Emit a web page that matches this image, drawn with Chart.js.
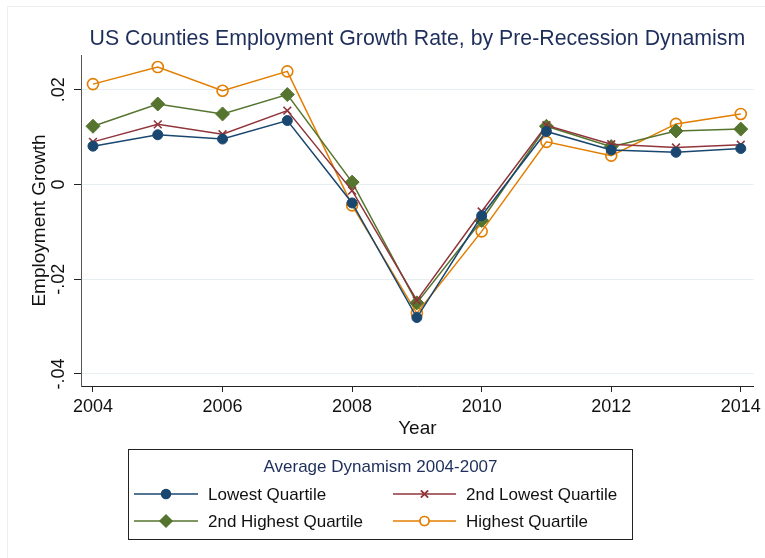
<!DOCTYPE html>
<html>
<head>
<meta charset="utf-8">
<script src="https://cdn.jsdelivr.net/npm/chart.js@4.4.1/dist/chart.umd.min.js"></script>
<style>
  html, body { margin: 0; padding: 0; background: #ffffff; }
  #wrap { width: 765px; height: 558px; position: relative; }
</style>
</head>
<body>
<div id="wrap"><canvas id="c" width="765" height="558"></canvas></div>
<script>
// Employment growth by pre-recession dynamism quartile, 2004-2014
const years = [2004, 2005, 2006, 2007, 2008, 2009, 2010, 2011, 2012, 2013, 2014];
const lowestQuartile        = [0.0081, 0.0105, 0.0096, 0.0135, -0.0039, -0.0281, -0.0066, 0.0112, 0.0073, 0.0068, 0.0076];
const secondLowestQuartile  = [0.0090, 0.0127, 0.0106, 0.0156, -0.0013, -0.0245, -0.0057, 0.0125, 0.0085, 0.0078, 0.0084];
const secondHighestQuartile = [0.0123, 0.0170, 0.0149, 0.0190, 0.0005, -0.0250, -0.0076, 0.0123, 0.0080, 0.0113, 0.0117];
const highestQuartile       = [0.0212, 0.0248, 0.0198, 0.0239, -0.0044, -0.0272, -0.0099, 0.0090, 0.0061, 0.0128, 0.0149];

const xTicks = [2004, 2006, 2008, 2010, 2012, 2014];
const yTicks = [-0.04, -0.02, 0, 0.02];
const yTickLabels = ['-.04', '-.02', '0', '.02'];

const seriesNames = ['Lowest Quartile', '2nd Lowest Quartile', '2nd Highest Quartile', 'Highest Quartile'];
const titleText = 'US Counties Employment Growth Rate, by Pre-Recession Dynamism';
const legendTitle = 'Average Dynamism 2004-2007';

const FONT = '"Liberation Sans", Arial, Helvetica, sans-serif';
const NAVY_TEXT = '#1f2f5b';

function pts(arr) { return years.map((y, i) => ({ x: y, y: arr[i] })); }

const styles = [
  { color: '#1a476f', pointStyle: 'circle',   radius: 5,   fill: true,  legendRadius: 4.5 },
  { color: '#90353b', pointStyle: 'crossRot', radius: 5.5, fill: false, legendRadius: 5 },
  { color: '#55752f', pointStyle: 'rectRot',  radius: 7,   fill: true,  legendRadius: 6 },
  { color: '#e37e00', pointStyle: 'circle',   radius: 5.5, fill: false, legendRadius: 4.5 }
];
const seriesData = [lowestQuartile, secondLowestQuartile, secondHighestQuartile, highestQuartile];

const datasets = seriesData.map((arr, i) => ({
  label: seriesNames[i],
  data: pts(arr),
  borderColor: styles[i].color,
  backgroundColor: styles[i].fill ? styles[i].color : 'rgba(0,0,0,0)',
  pointBorderColor: styles[i].color,
  pointBackgroundColor: styles[i].fill ? styles[i].color : 'rgba(0,0,0,0)',
  pointStyle: styles[i].pointStyle,
  pointRadius: styles[i].radius,
  pointBorderWidth: styles[i].fill ? 1 : 1.6,
  borderWidth: 1.5,
  tension: 0,
  fill: false
}));

// Title, frame, and boxed legend drawn on the canvas
const decorations = {
  id: 'decorations',
  beforeDraw(chart) {
    const ctx = chart.ctx;
    ctx.save();
    ctx.strokeStyle = '#eceff1';
    ctx.lineWidth = 1;
    ctx.beginPath();
    ctx.moveTo(7.5, 558); ctx.lineTo(7.5, 6.5); ctx.lineTo(765, 6.5);
    ctx.stroke();
    ctx.restore();
  },
  afterDraw(chart) {
    const ctx = chart.ctx;
    const area = chart.chartArea;
    ctx.save();
    // title
    ctx.fillStyle = NAVY_TEXT;
    ctx.font = '21.3px ' + FONT;
    ctx.textAlign = 'center';
    ctx.textBaseline = 'middle';
    ctx.fillText(titleText, (area.left + area.right) / 2, 39);

    // legend box
    const bx = 128.5, by = 449.5, bw = 504, bh = 90;
    ctx.strokeStyle = '#222';
    ctx.lineWidth = 1;
    ctx.strokeRect(bx, by, bw, bh);
    ctx.fillStyle = NAVY_TEXT;
    ctx.font = '17px ' + FONT;
    ctx.fillText(legendTitle, bx + bw / 2, 467);

    const cols = [{ x0: 134, x1: 198, tx: 208 }, { x0: 393, x1: 456, tx: 466 }];
    const rows = [494, 521];
    for (let i = 0; i < 4; i++) {
      const c = cols[i % 2], y = rows[Math.floor(i / 2)];
      const s = styles[i];
      ctx.strokeStyle = s.color;
      ctx.lineWidth = 1.5;
      ctx.beginPath(); ctx.moveTo(c.x0, y); ctx.lineTo(c.x1, y); ctx.stroke();
      // marker
      const cx = (c.x0 + c.x1) / 2;
      if (s.fill) {
        ctx.fillStyle = s.color;
        Chart.helpers.drawPoint(ctx, { pointStyle: s.pointStyle, radius: s.legendRadius, borderWidth: 1 }, cx, y);
        ctx.fill();
      } else {
        ctx.fillStyle = '#ffffff';
        ctx.lineWidth = 1.6;
        Chart.helpers.drawPoint(ctx, { pointStyle: s.pointStyle, radius: s.legendRadius, borderWidth: 1.6 }, cx, y);
        if (s.pointStyle === 'circle') ctx.fill();
        ctx.stroke();
      }
      ctx.fillStyle = '#111';
      ctx.font = '17px ' + FONT;
      ctx.textAlign = 'left';
      ctx.fillText(seriesNames[i], c.tx, y + 1);
    }
    ctx.restore();
  }
};

new Chart(document.getElementById('c'), {
  type: 'line',
  data: { datasets },
  plugins: [decorations],
  options: {
    responsive: false,
    animation: false,
    devicePixelRatio: 1,
    layout: { padding: { top: 55, right: 11, bottom: 118, left: 0 } },
    plugins: { legend: { display: false }, title: { display: false }, tooltip: { enabled: false } },
    scales: {
      x: {
        type: 'linear',
        min: 2003.815,
        max: 2014.2,
        afterBuildTicks: (s) => { s.ticks = xTicks.map(v => ({ value: v })); },
        afterFit: (s) => { s.height = 54; },
        ticks: {
          color: '#111',
          font: { family: FONT, size: 18 },
          padding: 4,
          callback: (v) => String(v)
        },
        grid: { display: true, drawOnChartArea: false, drawTicks: true, tickLength: 6, tickColor: '#222' },
        border: { display: true, color: '#222', width: 1 },
        title: { display: true, text: 'Year', color: '#111', font: { family: FONT, size: 19 }, padding: { top: 0, bottom: 0 } }
      },
      y: {
        type: 'linear',
        min: -0.04256,
        max: 0.02735,
        afterBuildTicks: (s) => { s.ticks = yTicks.map(v => ({ value: v })); },
        afterFit: (s) => { s.width = 81; },
        ticks: {
          color: '#111',
          font: { family: FONT, size: 18 },
          padding: -1,
          minRotation: 90,
          maxRotation: 90,
          crossAlign: 'center',
          callback: (v) => {
            const k = yTicks.findIndex(t => Math.abs(t - v) < 1e-9);
            return k >= 0 ? yTickLabels[k] : '';
          }
        },
        grid: { display: true, drawOnChartArea: true, color: '#e6eef1', lineWidth: 1, drawTicks: true, tickLength: 7, tickColor: '#222' },
        border: { display: true, color: '#555', width: 1 },
        title: { display: true, text: 'Employment Growth', color: '#111', font: { family: FONT, size: 19 }, padding: { top: 28, bottom: 0 } }
      }
    }
  }
});
</script>
</body>
</html>
